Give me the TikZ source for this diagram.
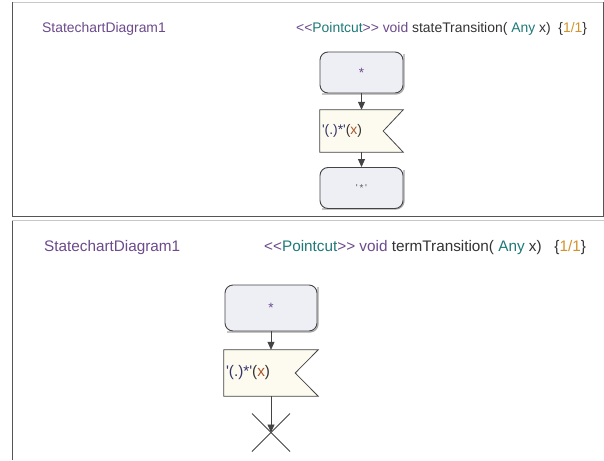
\documentclass[tikz,border=0pt]{standalone}
\usepackage{fontspec}
\newfontfamily\uifont{Liberation Sans}
\usetikzlibrary{arrows.meta,calc}

\definecolor{titlepurple}{HTML}{6C4A8C}
\definecolor{kwteal}{HTML}{1E7A78}
\definecolor{numorange}{HTML}{D4922A}
\definecolor{textdark}{HTML}{333333}
\definecolor{patnavy}{HTML}{34346A}
\definecolor{argbrown}{HTML}{A8562C}
\definecolor{statefill}{HTML}{EEEEF5}
\definecolor{sigfill}{HTML}{FDFBEF}
\definecolor{edge}{HTML}{444444}
\definecolor{framedark}{HTML}{555555}
\definecolor{framelight}{HTML}{C8C8C8}

\newcommand{\stereoopen}{<\kern0pt<}
\newcommand{\stereoclose}{>\kern0pt>}

\tikzset{
  txt/.style={font=\uifont\fontsize{13.9}{15}\selectfont, inner sep=0pt, anchor=base west},
  bigtxt/.style={font=\uifont\fontsize{15.3}{17}\selectfont, inner sep=0pt, anchor=base west},
  statebox/.style={draw=edge, line width=0.9pt, fill=statefill, rounded corners=8pt,
    minimum width=83pt, minimum height=41pt, inner sep=0pt,
    font=\uifont\fontsize{13.5}{15}\selectfont},
  sigframe/.style={minimum width=83pt, minimum height=42pt, inner sep=0pt},
  sigshape/.style={draw=edge, line width=0.8pt, fill=sigfill},
  flow/.style={draw=edge, line width=0.8pt, -{Triangle[width=7pt,length=8pt]}},
  shadowline/.style={draw=black!35, line width=1.2pt},
}

\begin{document}
\begin{tikzpicture}[x=1pt,y=-1pt]
\useasboundingbox (0,0) rectangle (604,460);
\fill[white] (0,0) rectangle (604,460);

% panel frames
\draw[framelight, line width=0.8pt] (12,2.5) -- (603,2.5);
\draw[framedark, line width=0.8pt] (12,2.5) -- (12,216) -- (603,216) -- (603,2.5);
\draw[framelight, line width=0.8pt] (12,220.5) -- (604,220.5);
\draw[framedark, line width=0.8pt] (12,220.5) -- (12,460);

% ---- upper diagram: stateTransition ----
\node[txt, text=titlepurple] (h1) at (42,32.5) {StatechartDiagram1};
\node[txt] (p1) at (296,32.5) {\textcolor{titlepurple}{\stereoopen}\textcolor{kwteal}{Pointcut}\textcolor{titlepurple}{\stereoclose{} void} \textcolor{textdark}{stateTransition(} \textcolor{kwteal}{Any} \textcolor{textdark}{x)\ \ \{}\textcolor{numorange}{1/1}\textcolor{textdark}{\}}};

\draw[shadowline, rounded corners=8pt] (322,94) -- (404,94) -- (404,54);
\node[statebox] (a1) at (361.5,72.5) {\textcolor{titlepurple}{*}};

\node[sigframe] (s1) at (361.5,131) {};
\path[sigshape] (s1.north west) -- (s1.north east) -- ($(s1.east)+(-20,0)$)
  -- (s1.south east) -- (s1.south west) -- cycle;
\node[txt, anchor=west] (s1t) at ($(s1.west)+(2,0)$) {\textcolor{patnavy}{'(.)*'}\textcolor{textdark}{(}\textcolor{argbrown}{x}\textcolor{textdark}{)}};

\draw[shadowline, rounded corners=8pt] (322,209) -- (404,209) -- (404,170);
\node[statebox] (b1) at (361.5,188) {\textcolor{textdark!80}{\fontsize{10}{12}\selectfont '\,*\,'}};

\draw[flow] (a1.south) -- (s1.north);
\draw[flow] (s1.south) -- (b1.north);

% ---- lower diagram: termTransition ----
\node[bigtxt, text=titlepurple] (h2) at (44,251) {StatechartDiagram1};
\node[bigtxt] (p2) at (264,251) {\textcolor{titlepurple}{\stereoopen}\textcolor{kwteal}{Pointcut}\textcolor{titlepurple}{\stereoclose{} void} \textcolor{textdark}{termTransition(} \textcolor{kwteal}{Any} \textcolor{textdark}{x)\ \ \ \{}\textcolor{numorange}{1/1}\textcolor{textdark}{\}}};

\draw[shadowline, rounded corners=8pt] (227,332) -- (318,332) -- (318,287);
\node[statebox, minimum width=92pt, minimum height=46pt] (a2) at (271,308) {\textcolor{titlepurple}{*}};

\node[sigframe, minimum width=94pt, minimum height=46pt] (s2) at (271,373) {};
\path[sigshape] (s2.north west) -- (s2.north east) -- ($(s2.east)+(-23,0)$)
  -- (s2.south east) -- (s2.south west) -- cycle;
\node[bigtxt, anchor=west] (s2t) at ($(s2.west)+(2,0)$) {\textcolor{patnavy}{'(.)*'}\textcolor{textdark}{(}\textcolor{argbrown}{x}\textcolor{textdark}{)}};

\coordinate (t2) at (271,432.5);
\draw[edge, line width=0.8pt] ($(t2)+(-19,-19)$) -- ($(t2)+(19,19)$);
\draw[edge, line width=0.8pt] ($(t2)+(19,-19)$) -- ($(t2)+(-19,19)$);

\draw[flow] (a2.south) -- (s2.north);
\draw[flow] (s2.south) -- (t2);
\end{tikzpicture}
\end{document}
